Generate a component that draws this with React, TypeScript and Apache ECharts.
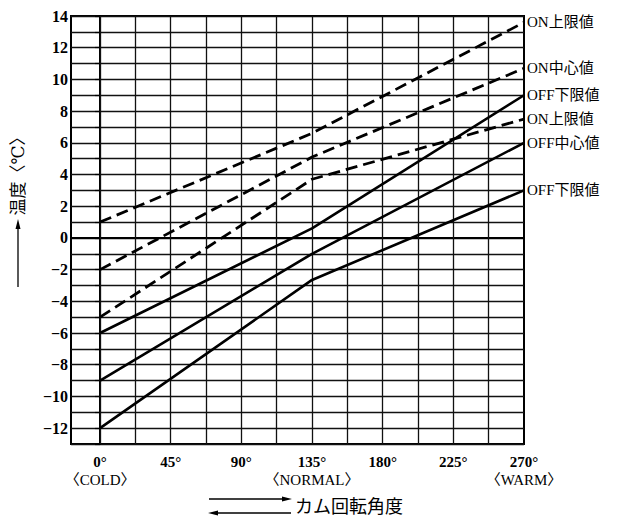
import React, { useEffect, useRef } from "react";
import * as echarts from "echarts";

// Data
const angles = [0, 135, 270];
const onUpperTop = [1.0, 6.6, 13.6];
const onCenter = [-2.0, 5.1, 10.7];
const onUpperLow = [-5.0, 3.7, 7.5];
const offLowerTop = [-6.0, 0.6, 9.0];
const offCenter = [-9.0, -1.0, 6.0];
const offLowerBottom = [-12.0, -2.65, 3.0];

const seriesNames = ["ON上限値", "ON中心値", "ON上限値", "OFF下限値", "OFF中心値", "OFF下限値"];
const seriesDashed = [true, true, true, false, false, false];
const seriesValues = [onUpperTop, onCenter, onUpperLow, offLowerTop, offCenter, offLowerBottom];

const xLabelValues = [0, 45, 90, 135, 180, 225, 270];
const xLabelModes: Record<number, string> = { 0: "〈COLD〉", 135: "〈NORMAL〉", 270: "〈WARM〉" };
const xGridValues = [0, 22.5, 45, 67.5, 90, 112.5, 135, 157.5, 180, 202.5, 225, 247.5];

const xTitle = "カム回転角度";
const yTitle = "温度〈℃〉";

const SERIF = "'Liberation Serif', 'DejaVu Serif', 'Noto Sans CJK JP', serif";

export default function App() {
  const ref = useRef<HTMLDivElement>(null);

  useEffect(() => {
    if (!ref.current) return;
    const chart = echarts.init(ref.current, undefined, { renderer: "svg" });

    const lineSeries = seriesValues.map((vals, i) => ({
      type: "line",
      id: "s" + i,
      name: seriesNames[i],
      data: angles.map((a, j) => [a, vals[j]]),
      symbol: "none",
      z: 5,
      lineStyle: {
        color: "#000",
        width: seriesDashed[i] ? 2.8 : 2.6,
        type: seriesDashed[i] ? [12, 6] : "solid",
      },
      endLabel: {
        show: true,
        formatter: seriesNames[i],
        color: "#000",
        fontSize: 15,
        fontFamily: SERIF,
        distance: 3,
      },
    }));

    const option = {
      animation: false,
      backgroundColor: "#fff",
      grid: {
        left: 71,
        right: 95,
        top: 16,
        bottom: 75,
        show: true,
        borderColor: "#000",
        borderWidth: 2,
        backgroundColor: "transparent",
      },
      xAxis: {
        type: "value",
        min: -18.5,
        max: 270,
        splitLine: { show: false },
        axisTick: { show: false },
        axisLine: { show: true, lineStyle: { color: "#000", width: 2 } },
        axisLabel: {
          customValues: xLabelValues,
          showMinLabel: true,
          showMaxLabel: true,
          margin: 9,
          formatter: (v: number) =>
            xLabelModes[v] ? `{d|${v}°}\n{m|${xLabelModes[v]}}` : `{d|${v}°}`,
          rich: {
            d: { fontSize: 15, fontWeight: "bold", fontFamily: SERIF, color: "#000", lineHeight: 18 },
            m: { fontSize: 15, fontFamily: SERIF, color: "#000", lineHeight: 18 },
          },
        },
      },
      yAxis: {
        type: "value",
        min: -13,
        max: 14,
        interval: 1,
        axisLine: { show: true, lineStyle: { color: "#000", width: 2 } },
        axisTick: { show: true, length: 5, lineStyle: { color: "#000", width: 1.2 } },
        splitLine: { show: true, lineStyle: { color: "#111", width: 1.3 } },
        axisLabel: {
          margin: 3,
          fontSize: 16,
          fontWeight: "bold",
          fontFamily: SERIF,
          color: "#000",
          formatter: (v: number) =>
            Math.round(v) % 2 === 0 ? (v < 0 ? "−" + Math.abs(v) : String(v)) : "",
        },
      },
      series: [
        {
          type: "line",
          id: "vgrid",
          data: [],
          symbol: "none",
          z: 1,
          markLine: {
            silent: true,
            symbol: ["none", "none"],
            label: { show: false },
            lineStyle: { color: "#111", width: 1.3, type: "solid" },
            data: xGridValues.map((x) => ({ xAxis: x })),
          },
        },
        ...lineSeries,
      ],
      graphic: [
        // y-axis title with upward arrow
        {
          type: "line",
          shape: { x1: 18, y1: 287, x2: 18, y2: 226 },
          style: { stroke: "#000", lineWidth: 1.3 },
        },
        {
          type: "polygon",
          shape: { points: [[18, 219], [15.5, 229], [20.5, 229]] },
          style: { fill: "#000" },
        },
        {
          type: "text",
          x: 18,
          y: 172,
          rotation: Math.PI / 2,
          style: {
            text: yTitle,
            fontSize: 17,
            fontFamily: SERIF,
            fill: "#000",
            align: "center",
            verticalAlign: "middle",
          },
        },
        // x-axis title with arrows
        {
          type: "line",
          shape: { x1: 209, y1: 499, x2: 284, y2: 499 },
          style: { stroke: "#000", lineWidth: 1.3 },
        },
        {
          type: "polygon",
          shape: { points: [[292, 499], [282, 496.5], [282, 501.5]] },
          style: { fill: "#000" },
        },
        {
          type: "line",
          shape: { x1: 216, y1: 513, x2: 291, y2: 513 },
          style: { stroke: "#000", lineWidth: 1.3 },
        },
        {
          type: "polygon",
          shape: { points: [[208, 513], [218, 510.5], [218, 515.5]] },
          style: { fill: "#000" },
        },
        {
          type: "text",
          x: 295,
          y: 507,
          style: {
            text: xTitle,
            fontSize: 18,
            fontFamily: SERIF,
            fill: "#000",
            align: "left",
            verticalAlign: "middle",
          },
        },
      ],
    };

    chart.setOption(option as any);
    return () => chart.dispose();
  }, []);

  return (
    <div
      ref={ref}
      style={{ position: "fixed", left: 0, top: 0, width: 619, height: 519, background: "#fff" }}
    />
  );
}
